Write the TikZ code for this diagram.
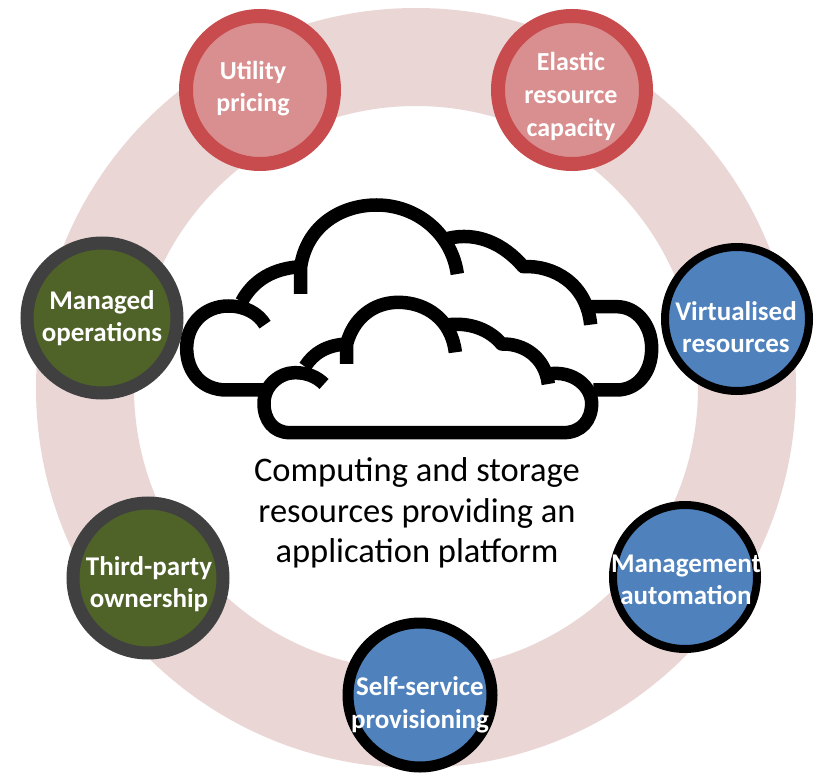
\documentclass[tikz,border=0pt]{standalone}
\usepackage{fontspec}
\setmainfont{Carlito}
\definecolor{ringc}{HTML}{EBD6D6}
\definecolor{redfill}{HTML}{D98F8F}
\definecolor{redline}{HTML}{C84B4E}
\definecolor{greenfill}{HTML}{4F6228}
\definecolor{greenline}{HTML}{404040}
\definecolor{bluefill}{HTML}{4F81BD}
\tikzset{
  bubble/.style={circle,draw,inner sep=0pt},
  redb/.style={bubble,fill=redfill,draw=redline,line width=14pt,minimum size=148pt},
  greenb/.style={bubble,fill=greenfill,draw=greenline,line width=13pt,minimum size=150pt},
  blueb/.style={bubble,fill=bluefill,draw=black,line width=8pt,minimum size=144pt},
  bubbletext/.style={align=center,inner sep=0pt,text=white,font=\fontsize{27}{32.5}\selectfont\bfseries},
  cloudline/.style={draw=black,line width=13.5pt,line join=round},
  caption/.style={align=center,font=\fontsize{34.5}{40.5}\selectfont}
}
\begin{document}
\begin{tikzpicture}[x=1pt,y=-1pt]
\useasboundingbox (0,0) rectangle (819,775);
\fill[white] (0,0) rectangle (819,775);
% ring
\coordinate (ringc) at (416,388);
\fill[ringc,even odd rule] (ringc) circle[radius=380pt] (ringc) circle[radius=282pt];
% bubbles
\node[redb] (util) at (260,90) {};
\node[redb] (elastic) at (572,90) {};
\node[greenb] (managed) at (102,318) {};
\node[greenb] (third) at (148,578) {};
\node[blueb] (virt) at (737,319) {};
\node[blueb] (mgmt) at (685,577) {};
\node[blueb,line width=11pt] (self) at (420,695) {};
% bubble labels
\node[bubbletext,font=\fontsize{26}{32}\selectfont\bfseries] (utilt) at (253,89) {Utility\\pricing};
\node[bubbletext,font=\fontsize{26}{33}\selectfont\bfseries] (elastict) at (571,96) {Elastic\\resource\\capacity};
\node[bubbletext] (managedt) at (102,318) {Managed\\operations};
\node[bubbletext] (thirdt) at (149,584) {Third-party\\ownership};
\node[bubbletext] (virtt) at (736,327) {Virtualised\\resources};
\node[bubbletext] (mgmtt) at (686,580) {Management\\automation};
\node[bubbletext] (selft) at (420,705) {Self-service\\provisioning};
% clouds, traced in a 3x grid
\begin{scope}[shift={(170,190)}]
\begin{scope}[x=0.33333pt,y=-0.33333pt]
 \fill[white] (280,600) .. controls (120,600) and (50,560) .. (50,475)
   .. controls (50,390) and (120,340) .. (215,345)
   .. controls (250,270) and (310,235) .. (392,230)
   .. controls (410,110) and (510,45) .. (620,45)
   .. controls (710,45) and (790,90) .. (830,145)
   .. controls (920,125) and (1000,160) .. (1060,230)
   .. controls (1150,225) and (1230,270) .. (1262,350)
   -- (1340,350) .. controls (1400,350) and (1445,405) .. (1445,475)
   .. controls (1445,550) and (1400,600) .. (1340,600) -- cycle;
 % back cloud
 \draw[cloudline] (392,312) -- (392,230)
   .. controls (410,110) and (510,45) .. (620,45)
   .. controls (740,45) and (845,130) .. (862,252);
 \draw[cloudline] (835,145) .. controls (920,125) and (1000,160) .. (1060,230)
   .. controls (1150,225) and (1250,280) .. (1262,404);
 \draw[cloudline] (1262,350) -- (1340,350)
   .. controls (1400,350) and (1445,405) .. (1445,475)
   .. controls (1445,550) and (1400,600) .. (1340,600) -- (1270,600);
 \draw[cloudline] (285,600) -- (170,600)
   .. controls (95,600) and (50,545) .. (50,475)
   .. controls (50,400) and (105,348) .. (175,348)
   .. controls (225,348) and (265,370) .. (285,404);
 \draw[cloudline] (215,335) .. controls (250,270) and (310,235) .. (392,230);
 % front cloud
 \fill[white] (360,728) .. controls (310,728) and (282,690) .. (282,640)
   .. controls (282,580) and (330,545) .. (400,545)
   .. controls (430,490) and (470,465) .. (530,462)
   .. controls (550,385) and (610,337) .. (685,337)
   .. controls (750,337) and (800,365) .. (830,405)
   .. controls (900,395) and (960,420) .. (995,462)
   .. controls (1060,460) and (1110,500) .. (1135,555)
   .. controls (1210,540) and (1265,590) .. (1265,640)
   .. controls (1265,690) and (1235,728) .. (1180,728) -- cycle;
 \draw[cloudline,line cap=butt] (530,522) -- (530,462)
   .. controls (550,385) and (610,337) .. (685,337)
   .. controls (770,337) and (845,390) .. (856,487);
 \draw[cloudline] (830,405) .. controls (900,395) and (960,420) .. (995,462)
   .. controls (1060,460) and (1125,500) .. (1135,582);
 \draw[cloudline] (1135,552) .. controls (1210,540) and (1265,590) .. (1265,640)
   .. controls (1265,690) and (1235,728) .. (1180,728)
   -- (360,728) .. controls (310,728) and (282,690) .. (282,640)
   .. controls (282,585) and (330,548) .. (375,548)
   .. controls (410,548) and (440,560) .. (462,582);
 \draw[cloudline] (405,530) .. controls (430,490) and (470,465) .. (530,462);
\end{scope}
\end{scope}
\node[caption] (cap) at (417,513) {Computing and storage\\resources providing an\\application platform};
\end{tikzpicture}
\end{document}
